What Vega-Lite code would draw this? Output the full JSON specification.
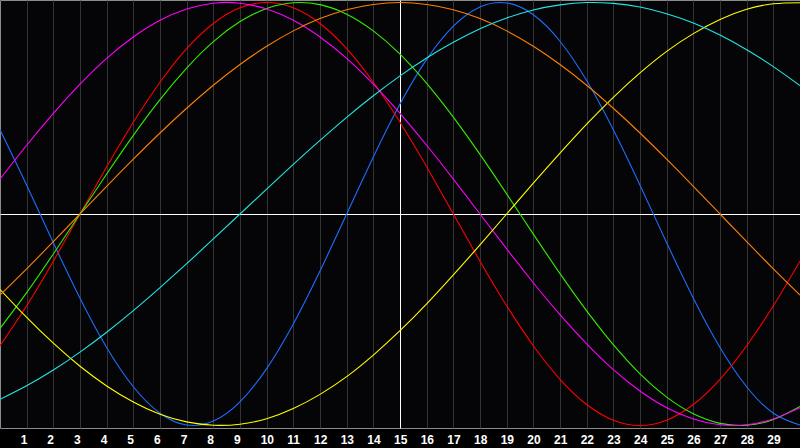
{
  "$schema": "https://vega.github.io/schema/vega-lite/v6.json",
  "width": 800,
  "height": 428,
  "autosize": {"type": "none"},
  "padding": {"left": 0, "top": 0, "right": 0, "bottom": 20},
  "background": "#000000",
  "config": {
    "view": {"fill": "#050507", "stroke": "#8c8c8c", "strokeWidth": 1}
  },
  "data": {
    "values": [
      {"t": 0, "p": 0.398, "e": -0.623, "i": -0.541, "n": 0.165, "a": -0.357, "w": -0.383, "s": -0.876},
      {"t": 1, "p": 0.136, "e": -0.434, "i": -0.372, "n": 0.325, "a": -0.489, "w": -0.259, "s": -0.812},
      {"t": 2, "p": -0.136, "e": -0.223, "i": -0.189, "n": 0.476, "a": -0.611, "w": -0.131, "s": -0.738},
      {"t": 3, "p": -0.398, "e": 0, "i": 0, "n": 0.614, "a": -0.72, "w": 0, "s": -0.653},
      {"t": 4, "p": -0.631, "e": 0.223, "i": 0.189, "n": 0.736, "a": -0.813, "w": 0.131, "s": -0.559},
      {"t": 5, "p": -0.817, "e": 0.434, "i": 0.372, "n": 0.837, "a": -0.889, "w": 0.259, "s": -0.457},
      {"t": 6, "p": -0.942, "e": 0.623, "i": 0.541, "n": 0.916, "a": -0.947, "w": 0.383, "s": -0.348},
      {"t": 7, "p": -0.998, "e": 0.782, "i": 0.69, "n": 0.969, "a": -0.983, "w": 0.5, "s": -0.235},
      {"t": 8, "p": -0.979, "e": 0.901, "i": 0.815, "n": 0.997, "a": -0.999, "w": 0.609, "s": -0.118},
      {"t": 9, "p": -0.888, "e": 0.975, "i": 0.91, "n": 0.997, "a": -0.994, "w": 0.707, "s": 0},
      {"t": 10, "p": -0.731, "e": 1, "i": 0.972, "n": 0.969, "a": -0.968, "w": 0.793, "s": 0.118},
      {"t": 11, "p": -0.52, "e": 0.975, "i": 0.999, "n": 0.916, "a": -0.92, "w": 0.866, "s": 0.235},
      {"t": 12, "p": -0.27, "e": 0.901, "i": 0.99, "n": 0.837, "a": -0.853, "w": 0.924, "s": 0.348},
      {"t": 13, "p": 0, "e": 0.782, "i": 0.945, "n": 0.736, "a": -0.769, "w": 0.966, "s": 0.457},
      {"t": 14, "p": 0.27, "e": 0.623, "i": 0.866, "n": 0.614, "a": -0.667, "w": 0.991, "s": 0.559},
      {"t": 15, "p": 0.52, "e": 0.434, "i": 0.756, "n": 0.476, "a": -0.552, "w": 1, "s": 0.653},
      {"t": 16, "p": 0.731, "e": 0.223, "i": 0.618, "n": 0.325, "a": -0.425, "w": 0.991, "s": 0.738},
      {"t": 17, "p": 0.888, "e": 0, "i": 0.458, "n": 0.165, "a": -0.288, "w": 0.966, "s": 0.812},
      {"t": 18, "p": 0.979, "e": -0.223, "i": 0.282, "n": 0, "a": -0.146, "w": 0.924, "s": 0.876},
      {"t": 19, "p": 0.998, "e": -0.434, "i": 0.095, "n": -0.165, "a": 0, "w": 0.866, "s": 0.927},
      {"t": 20, "p": 0.942, "e": -0.623, "i": -0.095, "n": -0.325, "a": 0.146, "w": 0.793, "s": 0.965},
      {"t": 21, "p": 0.817, "e": -0.782, "i": -0.282, "n": -0.476, "a": 0.288, "w": 0.707, "s": 0.989},
      {"t": 22, "p": 0.631, "e": -0.901, "i": -0.458, "n": -0.614, "a": 0.425, "w": 0.609, "s": 1},
      {"t": 23, "p": 0.398, "e": -0.975, "i": -0.618, "n": -0.736, "a": 0.552, "w": 0.5, "s": 0.996},
      {"t": 24, "p": 0.136, "e": -1, "i": -0.756, "n": -0.837, "a": 0.667, "w": 0.383, "s": 0.979},
      {"t": 25, "p": -0.136, "e": -0.975, "i": -0.866, "n": -0.916, "a": 0.769, "w": 0.259, "s": 0.947},
      {"t": 26, "p": -0.398, "e": -0.901, "i": -0.945, "n": -0.969, "a": 0.853, "w": 0.131, "s": 0.903},
      {"t": 27, "p": -0.631, "e": -0.782, "i": -0.99, "n": -0.997, "a": 0.92, "w": 0, "s": 0.846},
      {"t": 28, "p": -0.817, "e": -0.623, "i": -0.999, "n": -0.997, "a": 0.968, "w": -0.131, "s": 0.777},
      {"t": 29, "p": -0.942, "e": -0.434, "i": -0.972, "n": -0.969, "a": 0.994, "w": -0.259, "s": 0.697},
      {"t": 30, "p": -0.998, "e": -0.223, "i": -0.91, "n": -0.916, "a": 0.999, "w": -0.383, "s": 0.607}
    ]
  },
  "transform": [
    {"fold": ["p", "e", "i", "n", "a", "w", "s"], "as": ["cycle", "v"]}
  ],
  "mark": {
    "type": "line",
    "strokeWidth": 1.1,
    "interpolate": "natural",
    "clip": true
  },
  "encoding": {
    "x": {
      "field": "t",
      "type": "quantitative",
      "scale": {"domain": [0, 30], "nice": false, "zero": false},
      "axis": {
        "values": [1, 2, 3, 4, 5, 6, 7, 8, 9, 10, 11, 12, 13, 14, 15, 16, 17, 18, 19, 20, 21, 22, 23, 24, 25, 26, 27, 28, 29],
        "title": null,
        "domain": false,
        "ticks": false,
        "grid": true,
        "gridColor": {"condition": {"test": "datum.value === 15", "value": "#ffffff"}, "value": "#333333"},
        "gridWidth": 1,
        "labelColor": "#ffffff",
        "labelFont": "Liberation Sans",
        "labelFontWeight": "bold",
        "labelFontSize": 12,
        "labelAlign": "left",
        "labelBaseline": "alphabetic",
        "labelOffset": -6.5,
        "labelPadding": 15,
        "labelFlush": false,
        "labelOverlap": false
      }
    },
    "y": {
      "field": "v",
      "type": "quantitative",
      "scale": {"domain": [-1.012, 1.012], "nice": false, "zero": false},
      "axis": {
        "values": [0],
        "title": null,
        "domain": false,
        "ticks": false,
        "labels": false,
        "grid": true,
        "gridColor": "#ffffff",
        "gridWidth": 1
      }
    },
    "color": {
      "field": "cycle",
      "type": "nominal",
      "scale": {
        "domain": ["p", "e", "i", "n", "a", "w", "s"],
        "range": ["#1e6eff", "#ff0000", "#33ee00", "#ff00ff", "#ffff00", "#ff7f00", "#22e6e6"]
      },
      "legend": null
    }
  }
}
